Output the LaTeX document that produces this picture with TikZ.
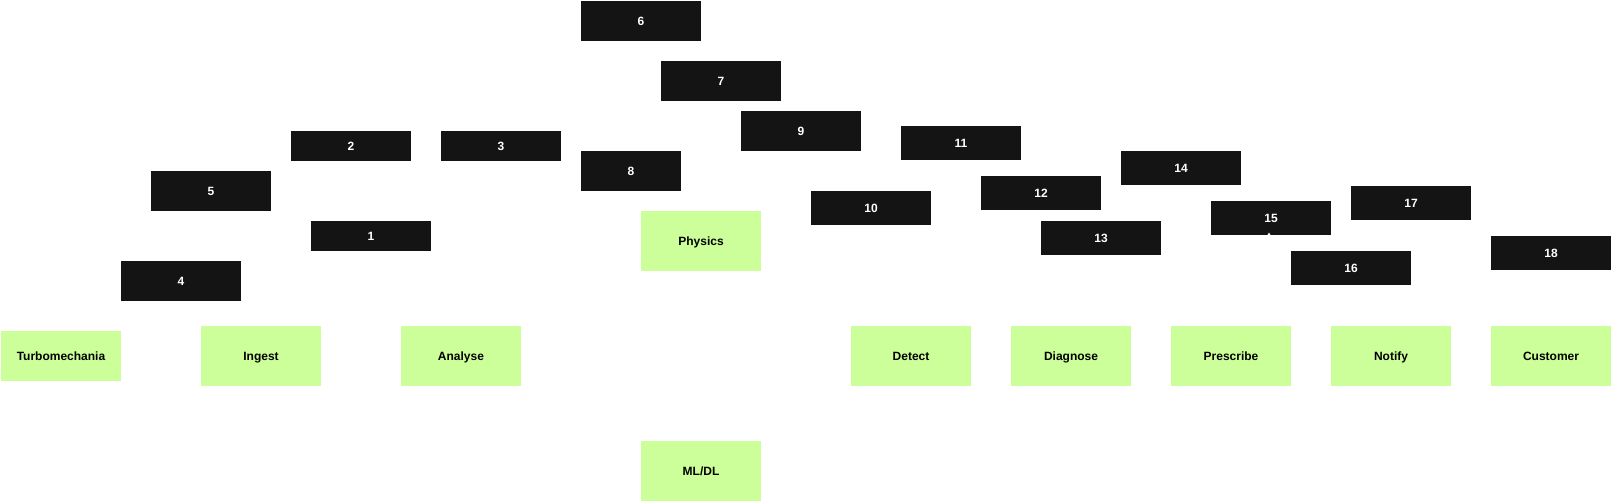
\documentclass[tikz,border=0pt]{standalone}
\usepackage{fontspec}
\setmainfont{Liberation Sans}
\definecolor{boxblack}{HTML}{141414}
\definecolor{boxgreen}{HTML}{CCFF99}
\begin{document}
\begin{tikzpicture}[x=1pt,y=1pt,
  base/.style={rectangle,inner sep=0pt,minimum width=119.5pt,text height=8.6pt,text depth=0pt,font=\fontsize{12}{14}\selectfont\bfseries},
  blk/.style={base,fill=boxblack,text=white},
  grn/.style={base,fill=boxgreen,text=black,minimum height=60pt}]
\useasboundingbox (0,0) rectangle (1611,-501);
% black boxes
\node[blk,minimum height=30pt] (n1) at (371,-236) {1};
\node[blk,minimum height=30pt] (n2) at (351,-146) {2};
\node[blk,minimum height=30pt] (n3) at (501,-146) {3};
\node[blk,minimum height=40pt] (n4) at (181,-281) {4};
\node[blk,minimum height=40pt] (n5) at (211,-191) {5};
\node[blk,minimum height=40pt] (n6) at (641,-21) {6};
\node[blk,minimum height=40pt] (n7) at (721,-81) {7};
\node[blk,minimum height=40pt,minimum width=99.5pt] (n8) at (631,-171) {8};
\node[blk,minimum height=40pt] (n9) at (801,-131) {9};
\node[blk,minimum height=34pt] (n10) at (871,-208) {10};
\node[blk,minimum height=34pt] (n11) at (961,-143) {11};
\node[blk,minimum height=34pt] (n12) at (1041,-193) {12};
\node[blk,minimum height=34pt] (n13) at (1101,-238) {13};
\node[blk,minimum height=34pt] (n14) at (1181,-168) {14};
\node[blk,minimum height=34pt] (n15) at (1271,-218) {15};
\node[blk,minimum height=34pt] (n16) at (1351,-268) {16};
\node[blk,minimum height=34pt] (n17) at (1411,-203) {17};
\node[blk,minimum height=34pt] (n18) at (1551,-253) {18};
% tiny white mark at bottom of 15
\fill[white] (1269,-232.5) -- (1267.5,-235) -- (1270.5,-235) -- cycle;
% green boxes
\node[grn] (physics) at (701,-241) {Physics};
\node[grn] (mldl) at (701,-471) {ML/DL};
\node[grn,minimum height=50pt] (turbo) at (61,-356) {Turbomechania};
\node[grn] (ingest) at (261,-356) {Ingest};
\node[grn] (analyse) at (461,-356) {Analyse};
\node[grn] (detect) at (911,-356) {Detect};
\node[grn] (diagnose) at (1071,-356) {Diagnose};
\node[grn] (prescribe) at (1231,-356) {Prescribe};
\node[grn] (notify) at (1391,-356) {Notify};
\node[grn] (customer) at (1551,-356) {Customer};
\end{tikzpicture}
\end{document}
